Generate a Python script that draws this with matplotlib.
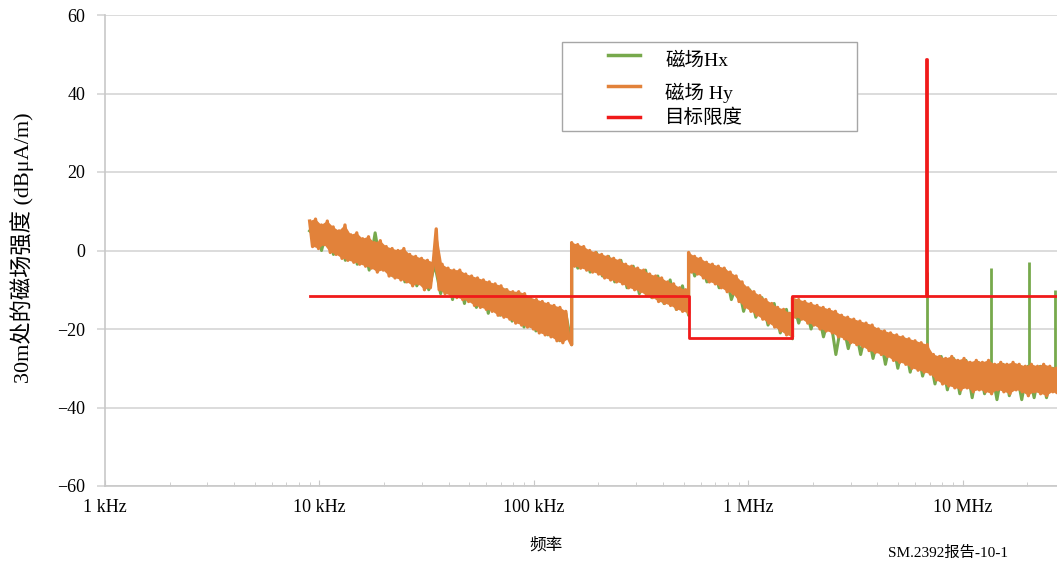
import numpy as np
import matplotlib.pyplot as plt
from matplotlib.lines import Line2D
from matplotlib.patches import Rectangle
from matplotlib.ticker import LogLocator, NullFormatter

plt.rcParams['font.family'] = ['Liberation Serif', 'Noto Sans CJK SC']

# scan segments (Hz)
seg_edges = [9e3, 150e3, 526.5e3, 1606.5e3, 30e6]

# 磁场 Hy (dBuA/m)
hy_seg1 = [7.5, 1.0, 8.0, 0.5, 6.5, 1.5, 7.5, -0.5, 6.0, -1.0,
           5.0, -2.0, 6.5, -2.5, 4.0, -3.0, 4.5, -3.5, 3.0, -4.0,
           3.5, -4.5, 2.0, -5.5, 2.5, -5.0, 1.0, -6.5, 0.5, -7.0,
           0.0, -7.5, 0.5, -8.0, -1.0, -9.0, -1.5, -8.5, -2.0, -10.0,
           -2.5, -9.5, -3.0, 5.5, -10.0, -3.5, -11.0, -4.5, -11.5, -5.0,
           -12.0, -5.0, -12.5, -6.0, -13.0, -6.5, -14.0, -7.0, -14.5, -7.5,
           -15.0, -8.0, -15.5, -8.5, -16.5, -9.0, -17.0, -10.0, -17.5, -10.5,
           -18.5, -10.5, -19.0, -11.0, -19.5, -12.0, -20.0, -12.5, -21.0, -13.0,
           -21.5, -13.5, -22.0, -14.0, -23.0, -14.5, -23.5, -15.5, -22.5, -24.0]
hy_seg2 = [2.0, -4.0, 1.5, -4.5, 1.0, -5.0, 0.0, -5.5, -0.5, -6.0,
           -1.0, -7.0, -1.5, -7.5, -2.0, -8.0, -2.5, -8.5, -3.5, -9.5,
           -4.0, -10.0, -4.5, -10.5, -5.0, -11.5, -6.0, -12.0, -6.5, -13.0,
           -7.0, -13.5, -8.0, -14.0, -8.5, -15.0, -9.5, -15.5, -10.0, -16.0]
hy_seg3 = [-0.5, -5.5, -1.5, -6.0, -2.0, -7.0, -3.0, -8.0, -3.5, -8.5,
           -4.0, -9.5, -4.5, -10.5, -5.5, -11.0, -6.5, -13.0, -8.0, -14.5,
           -9.5, -15.5, -10.5, -16.5, -11.5, -17.5, -12.5, -18.5, -13.5, -19.5,
           -14.5, -20.5, -15.0, -21.5, -16.0, -22.0]
hy_seg4 = [-12.0, -17.0, -12.5, -17.5, -13.0, -18.5, -13.5, -19.0, -14.0, -20.0,
           -14.5, -20.5, -15.0, -21.0, -15.5, -22.0, -16.5, -22.5, -17.0, -23.5,
           -17.5, -24.0, -18.0, -24.5, -18.5, -25.5, -19.0, -26.0, -20.0, -26.5,
           -20.5, -27.0, -21.0, -28.0, -21.5, -28.5, -22.0, -29.0, -22.5, -30.0,
           -23.0, -30.5, -23.5, -31.0, -24.0, -31.5, -26.5, -33.0, -27.0, -34.0,
           -27.5, -34.5, -27.0, -35.0, -28.0, -35.5, -27.5, -35.0, -28.5, -36.0,
           -28.0, -35.5, -28.5, -36.0, -28.0, -36.5, -29.0, -35.5, -28.5, -36.0,
           -29.0, -36.5, -28.5, -35.5, -29.0, -36.0, -29.5, -37.0, -29.0, -36.0,
           -29.5, -36.5, -29.0, -37.0, -29.5, -36.0, -30.0, -37.0, -29.5, -36.5]

# 磁场 Hx
hx_seg1 = [5.0, 7.0, 0.0, 6.0, -1.0, 4.5, -2.5, 3.5, -3.5, 2.5,
           -5.0, 4.5, -4.5, 0.5, -6.5, -0.5, -8.0, -2.0, -9.0, -3.0,
           -10.0, -3.5, -11.0, -5.0, -12.5, -6.0, -13.5, -7.0, -14.5, -8.5,
           -16.0, -9.0, -16.5, -10.0, -18.0, -11.0, -19.5, -12.0, -20.5, -13.5,
           -21.5, -14.5, -23.0, -16.0, -24.0]
hx_seg2 = [1.5, -4.5, 0.5, -5.5, -0.5, -6.5, -1.5, -8.0, -2.5, -9.5,
           -4.0, -11.0, -5.0, -12.0, -6.5, -13.5, -7.5, -15.0, -9.0, -16.5]
hx_seg3 = [-1.0, -6.5, -2.5, -8.0, -4.0, -9.5, -5.0, -12.5, -8.0, -15.5,
           -10.0, -17.0, -12.0, -19.0, -13.5, -21.0, -15.0, -22.5]
hx_seg4 = [-12.5, -18.5, -13.5, -20.0, -14.5, -22.0, -16.0, -26.5, -17.5, -25.0,
           -18.5, -26.5, -19.5, -27.5, -20.5, -29.0, -21.5, -30.0, -22.5, -31.0,
           -23.5, -32.0, -26.0, -34.0, -27.0, -35.5, -27.5, -36.5, -28.0, -37.5,
           -28.5, -36.5, -29.0, -38.0, -29.0, -37.0, -29.5, -38.0, -29.5, -37.5,
           -29.5, -37.5, -30.0, -37.0, -30.0]

# narrow carriers seen on Hx
hx_spike_f = [6.78e6, 13.56e6, 20.3e6, 26.9e6]
hx_spike_top = [-5.5, -4.5, -3.0, -10.0]
hx_spike_base = [-28.0, -31.0, -32.0, -33.0]

# 目标限度
limit_f = [9e3, 526.5e3, 526.5e3, 1606.5e3, 1606.5e3, 6.765e6, 6.765e6,
           6.795e6, 6.795e6, 30e6]
limit_v = [-11.5, -11.5, -22.3, -22.3, -11.5, -11.5, 48.8, 48.8, -11.5, -11.5]

xtick_vals = [1e3, 1e4, 1e5, 1e6, 1e7]
xtick_labels = ['1 kHz', '10 kHz', '100 kHz', '1 MHz', '10 MHz']

hy_segs = [hy_seg1, hy_seg2, hy_seg3, hy_seg4]
hx_segs = [hx_seg1, hx_seg2, hx_seg3, hx_seg4]


def seg_freqs(k, vals):
    return np.geomspace(seg_edges[k], seg_edges[k + 1], len(vals))


def build(segs):
    f, v = [], []
    for k, vals in enumerate(segs):
        f.extend(seg_freqs(k, vals))
        v.extend(vals)
    return f, v


hx_f, hx_v = build(hx_segs)
hy_f, hy_v = build(hy_segs)

W, H = 1057, 562
fig = plt.figure(figsize=(W / 100, H / 100), dpi=100)
ax = fig.add_axes([105 / W, 1 - 486 / H, 952 / W, 471 / H])

green = '#77A94C'
orange = '#E2823A'
red = '#F01A1A'

ax.plot(hx_f, hx_v, color=green, lw=2.2, zorder=2)
ax.vlines(hx_spike_f, hx_spike_base, hx_spike_top, color=green, lw=2, zorder=2)
# fill the inside of the Hy trace (between its peaks and dips)
for k, vals in enumerate(hy_segs):
    f = seg_freqs(k, vals)
    xs = list(f[0::2]) + list(f[1::2])[::-1]
    ys = list(vals[0::2]) + list(vals[1::2])[::-1]
    ax.fill(xs, ys, color=orange, lw=0, zorder=3)
ax.plot(hy_f, hy_v, color=orange, lw=2.4, zorder=3)
ax.plot(limit_f, limit_v, color=red, lw=2, zorder=4)

ax.set_xscale('log')
ax.set_xlim(1e3, 2.75e7)
ax.set_ylim(-60, 60)
ax.set_yticks(range(-60, 61, 20))
ax.set_xticks(xtick_vals)
ax.set_xticklabels(xtick_labels)
ax.xaxis.set_minor_locator(LogLocator(base=10, subs=np.arange(2, 10)))
ax.xaxis.set_minor_formatter(NullFormatter())

ax.yaxis.grid(True, color='#D9D9D9', lw=1.3)
ax.set_axisbelow(True)
for s in ['top', 'right']:
    ax.spines[s].set_visible(False)
for s in ['left', 'bottom']:
    ax.spines[s].set_color('#C8C8C8')
    ax.spines[s].set_linewidth(1.2)
ax.tick_params(axis='y', length=6, color='#D9D9D9', width=1.3, pad=8,
               labelsize=13)
ax.tick_params(axis='x', which='both', direction='in', color='#C8C8C8',
               pad=9, labelsize=13)
ax.tick_params(axis='x', which='major', length=4)
ax.tick_params(axis='x', which='minor', length=3)

fig.text(22 / W, 1 - 248 / H, '30m处的磁场强度 (dBμA/m)', rotation=90,
         ha='center', va='center', fontsize=16)
fig.text(546 / W, 1 - 546 / H, '频率', ha='center', va='center', fontsize=12)
fig.text(888 / W, 1 - 546 / H, 'SM.2392报告-10-1', ha='left', va='top',
         fontsize=11)

# legend box
fig.patches.append(Rectangle((562 / W, 1 - 131 / H), 295 / W, 89 / H,
                             transform=fig.transFigure, facecolor='white',
                             edgecolor='#A6A6A6', lw=1, zorder=5))
leg_items = [(green, '磁场Hx', 55, 61), (orange, '磁场 Hy', 86, 93),
             (red, '目标限度', 117, 118)]
for col, lab, yl, yt in leg_items:
    fig.lines.append(Line2D([608 / W, 640 / W], [1 - yl / H, 1 - yl / H],
                            transform=fig.transFigure, color=col, lw=2.5,
                            zorder=6))
    fig.text(665 / W, 1 - yt / H, lab, ha='left', va='center', fontsize=14,
             zorder=6)

fig.savefig('out.png', dpi=100)
